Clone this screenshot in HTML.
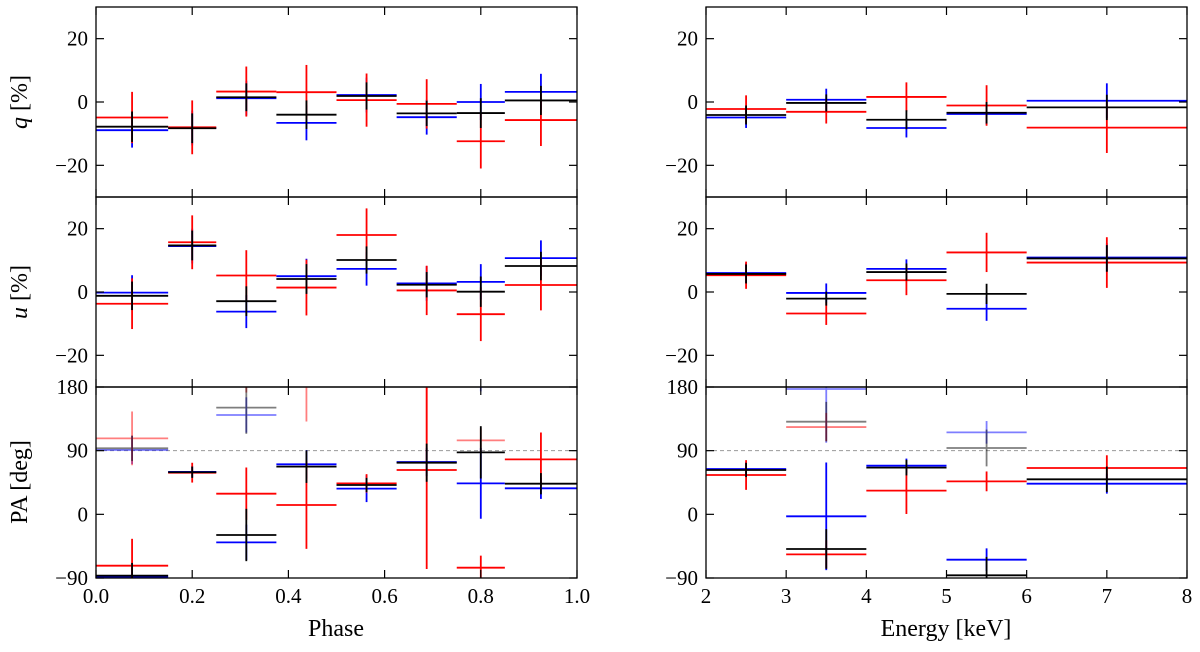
<!DOCTYPE html>
<html><head><meta charset="utf-8"><style>
html,body{margin:0;padding:0;background:#fff}
svg{display:block;font-family:"Liberation Serif",serif}
</style></head><body>
<svg id="fig" width="1200" height="652" viewBox="0 0 1200 652"></svg>
<script>
const phaseEdges=[0,0.15,0.25,0.375,0.5,0.625,0.75,0.85,1.0];
const energyEdges=[2,3,4,5,6,8];
const phaseQBlack=[-7.8,-8.3,1.5,-4,1.9,-3.6,-3.5,0.5];
const phaseQBlackErr=[4.8,4.7,4.4,4.5,4.3,4,4.7,4.6];
const phaseQBlue=[-8.9,-8.2,1.2,-6.6,2.2,-4.8,0,3.2];
const phaseQBlueErr=[5.5,5.5,5.5,5.5,5.5,5.5,5.7,5.7];
const phaseQRed=[-4.9,-8,3.3,3.1,0.6,-0.6,-12.4,-5.7];
const phaseQRedErr=[8.1,8.5,7.9,8.6,8.4,7.8,8.6,8.2];
const phaseUBlack=[-1.2,14.7,-2.9,4.1,10.1,2.3,0.1,8.2];
const phaseUBlackErr=[4.5,4.7,4.7,4.7,4.3,4,4.8,4.5];
const phaseUBlue=[-0.2,14.5,-6.2,5,7.3,2.7,3.2,10.7];
const phaseUBlueErr=[5.5,5.5,5.2,5.5,5.3,5.5,5.6,5.6];
const phaseURed=[-3.7,15.7,5.2,1.4,18,0.5,-7,2.2];
const phaseURedErr=[8,8.5,8,8.8,8.4,7.8,8.5,8];
const phasePABlack=[-86.7,59.5,-29.2,67.4,41.5,73,87.6,43.3];
const phasePABlackErr=[18,8,37,23,10,27,37,15];
const phasePABlue=[-89,60,-39.6,70.7,36.3,74,43.8,36.8];
const phasePABlueErr=[20,8,25,20,19,20,50,15];
const phasePARed=[-72.6,58.9,29.2,13.2,43.8,62.7,-75.4,77.7];
const phasePARedErr=[38,14,37,62,13,140,17,38];
const energyQBlack=[-4.1,-0.3,-5.6,-3.4,-1.7];
const energyQBlackErr=[3,2.7,3,3.4,4];
const energyQBlue=[-4.9,0.7,-8.2,-3.8,0.4];
const energyQBlueErr=[3.3,3.5,3,3.3,5.5];
const energyQRed=[-2.2,-3.1,1.6,-1.1,-8.1];
const energyQRedErr=[4.3,3.7,4.6,6.4,8];
const energyUBlack=[5.7,-2.1,6.3,-0.6,10.6];
const energyUBlackErr=[3,2.2,2.7,3.2,4.2];
const energyUBlue=[6,-0.3,7.3,-5.3,10.9];
const energyUBlueErr=[3.2,3,3,3.8,4.5];
const energyURed=[5.3,-6.8,3.7,12.5,9.3];
const energyURedErr=[4.3,3.6,4.7,6.2,8];
const energyPABlack=[62.7,-49,66,-86.2,49.5];
const energyPABlackErr=[10,28,11,26,18];
const energyPABlue=[64,-2.8,68.8,-64.1,43.3];
const energyPABlueErr=[10,76,10,16,14];
const energyPARed=[55.6,-56.6,33.5,46.6,65.5];
const energyPARedErr=[21,20,33,14,18];
const phaseTicks=["0.0","0.2","0.4","0.6","0.8","1.0"];
const energyTicks=["2","3","4","5","6","7","8"];
const quTicks=["20","0","\u221220"];
const paTicks=["180","90","0","\u221290"];

const NS="http://www.w3.org/2000/svg";
const svg=document.getElementById('fig');
function mk(tag,attrs,parent){const e=document.createElementNS(NS,tag);for(const k in attrs)e.setAttribute(k,attrs[k]);(parent||svg).appendChild(e);return e;}
const rows=[{top:7,bot:197,min:-30,max:30},{top:197,bot:387,min:-30,max:30},{top:387,bot:578,min:-90,max:180}];
const cols=[{x0:96,x1:577,min:0,max:1,edges:phaseEdges},{x0:706,x1:1187,min:2,max:8,edges:energyEdges}];
function sx(c,v){return c.x0+(v-c.min)/(c.max-c.min)*(c.x1-c.x0);}
function sy(r,v){return r.bot-(v-r.min)/(r.max-r.min)*(r.bot-r.top);}
const colors={blue:'#0000ff',red:'#ff0000',black:'#000000'};
let clipId=0;
function panel(ci,ri,series,isPA,name){
  const c=cols[ci],r=rows[ri];
  const g=mk('g',{});
  
  
  const id='clip'+(clipId++);
  const cp=mk('clipPath',{id:id},g);mk('rect',{x:c.x0,y:r.top,width:c.x1-c.x0,height:r.bot-r.top},cp);
  const dg=mk('g',{'clip-path':'url(#'+id+')'},g);
  if(isPA){const l=mk('line',{x1:c.x0,x2:c.x1,y1:sy(r,90),y2:sy(r,90),stroke:'#999',"stroke-width":1,"stroke-dasharray":"4,3"},dg);
    }
  series.forEach(s=>{
    s.vals.forEach((v,i)=>{
      const a=c.edges[i],b=c.edges[i+1],m=(a+b)/2,e=s.err[i];
      const draws=[{v:v,op:1}];
      if(isPA&&v+180-e<180)draws.push({v:v+180,op:0.5});
      draws.forEach(d=>{
        const eg=mk('g',{stroke:colors[s.color],"stroke-width":1.8,opacity:d.op},dg);
        
        
        mk('line',{x1:sx(c,a),x2:sx(c,b),y1:sy(r,d.v),y2:sy(r,d.v)},eg);
        mk('line',{x1:sx(c,m),x2:sx(c,m),y1:sy(r,d.v-e),y2:sy(r,d.v+e)},eg);
      });
    });
  });
  mk('rect',{x:c.x0,y:r.top,width:c.x1-c.x0,height:r.bot-r.top,fill:'none',stroke:'#000',"stroke-width":1.3},g);
  const yt=isPA?[180,90,0,-90]:[20,0,-20];
  const yl=isPA?paTicks:quTicks;
  yt.forEach((t,k)=>{const y=sy(r,t);
    mk('line',{x1:c.x0,x2:c.x0+8,y1:y,y2:y,stroke:'#000',"stroke-width":1.2},g);
    mk('line',{x1:c.x1-8,x2:c.x1,y1:y,y2:y,stroke:'#000',"stroke-width":1.2},g);
    const tx=mk('text',{x:c.x0-8,y:y+7,"text-anchor":"end","font-size":21},g);tx.textContent=yl[k];
    
  });
  const xs=ci===0?[0,0.2,0.4,0.6,0.8,1.0]:[2,3,4,5,6,7,8];
  xs.forEach((t,k)=>{const x=sx(c,t);
    mk('line',{x1:x,x2:x,y1:r.top,y2:r.top+8,stroke:'#000',"stroke-width":1.2},g);
    mk('line',{x1:x,x2:x,y1:r.bot-8,y2:r.bot,stroke:'#000',"stroke-width":1.2},g);
    if(ri===2){const tx=mk('text',{x:x,y:r.bot+25,"text-anchor":"middle","font-size":21},g);
      tx.textContent=(ci===0?phaseTicks:energyTicks)[k];
      }
  });
}
function S(color,vals,err){return {color,vals,err};}
panel(0,0,[S('blue',phaseQBlue,phaseQBlueErr),S('red',phaseQRed,phaseQRedErr),S('black',phaseQBlack,phaseQBlackErr)],false,'phase-q-panel');
panel(0,1,[S('blue',phaseUBlue,phaseUBlueErr),S('red',phaseURed,phaseURedErr),S('black',phaseUBlack,phaseUBlackErr)],false,'phase-u-panel');
panel(0,2,[S('blue',phasePABlue,phasePABlueErr),S('red',phasePARed,phasePARedErr),S('black',phasePABlack,phasePABlackErr)],true,'phase-pa-panel');
panel(1,0,[S('blue',energyQBlue,energyQBlueErr),S('red',energyQRed,energyQRedErr),S('black',energyQBlack,energyQBlackErr)],false,'energy-q-panel');
panel(1,1,[S('blue',energyUBlue,energyUBlueErr),S('red',energyURed,energyURedErr),S('black',energyUBlack,energyUBlackErr)],false,'energy-u-panel');
panel(1,2,[S('blue',energyPABlue,energyPABlueErr),S('red',energyPARed,energyPARedErr),S('black',energyPABlack,energyPABlackErr)],true,'energy-pa-panel');

function label(txt,x,y,rot,name,html){
  const t=mk('text',{x:x,y:y,"text-anchor":"middle","font-size":24,transform:rot?`rotate(-90 ${x} ${y})`:''});
  if(html){t.innerHTML=html;}else t.textContent=txt;
  
  
}
label('',27,102,true,'q-axis-title','<tspan font-style="italic">q</tspan> [%]');
label('',27,292,true,'u-axis-title','<tspan font-style="italic">u</tspan> [%]');
label('PA [deg]',27,482,true,'pa-axis-title');
label('Phase',336,636,false,'phase-axis-title');
label('Energy [keV]',946,636,false,'energy-axis-title');
</script>
</body></html>
